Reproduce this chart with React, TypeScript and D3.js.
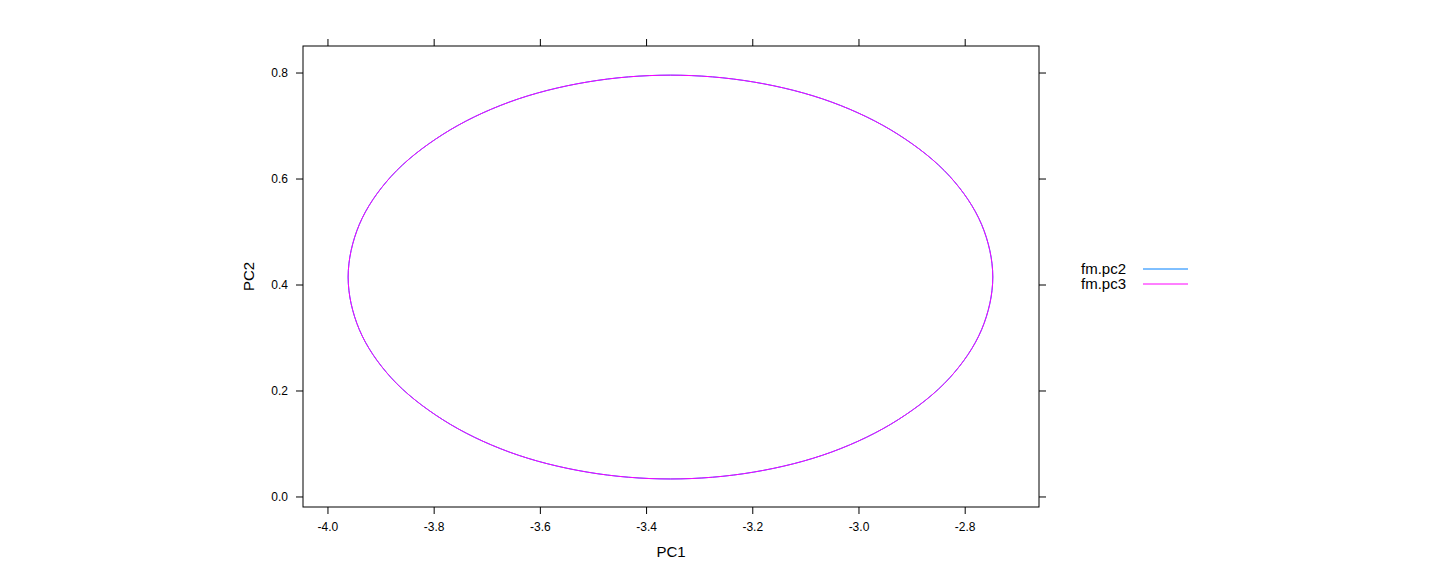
import React from 'react';
import * as d3 from 'd3';

// ellipse outline (PC1, PC2), every 15 degrees
const pc1Values: number[] = [
  -2.748, -2.769, -2.829, -2.926, -3.051, -3.198, -3.355, -3.512, -3.659, -3.784, -3.881, -3.941,
  -3.962, -3.941, -3.881, -3.784, -3.659, -3.512, -3.355, -3.198, -3.051, -2.926, -2.829, -2.769,
];
const pc2Values: number[] = [
  0.415, 0.514, 0.605, 0.684, 0.745, 0.783, 0.796, 0.783, 0.745, 0.684, 0.605, 0.514,
  0.415, 0.316, 0.225, 0.146, 0.085, 0.047, 0.034, 0.047, 0.085, 0.146, 0.225, 0.316,
];
const seriesNames: string[] = ['fm.pc2', 'fm.pc3'];
const seriesColors: string[] = ['#0080ff', '#ff00ff'];
const xTicks: number[] = [-4.0, -3.8, -3.6, -3.4, -3.2, -3.0, -2.8];
const yTicks: number[] = [0.0, 0.2, 0.4, 0.6, 0.8];

const width = 1440;
const height = 576;
const panel = { left: 303, right: 1039, top: 46, bottom: 507 };
const tickLen = 7;
const font = "'Liberation Sans', Arial, sans-serif";

function App() {
  const x = d3.scaleLinear().domain([-4.047, -2.661]).range([panel.left, panel.right]);
  const y = d3.scaleLinear().domain([-0.0189, 0.851]).range([panel.bottom, panel.top]);

  const points: [number, number][] = pc1Values.map((v, i) => [v, pc2Values[i]]);
  const line = d3.line<[number, number]>()
    .x(d => x(d[0]))
    .y(d => y(d[1]))
    .curve(d3.curveCatmullRomClosed);
  const path = line(points) || '';

  return (
    <svg width={width} height={height} style={{ position: 'absolute', left: 0, top: 0 }}
      fontFamily={font}>
      <rect width={width} height={height} fill="#fff" />
      {/* data */}
      {seriesNames.map((name, i) => (
        <path key={name} d={path} fill="none" stroke={seriesColors[i]} strokeWidth={1} />
      ))}
      {/* panel box */}
      <rect x={panel.left} y={panel.top} width={panel.right - panel.left} height={panel.bottom - panel.top}
        fill="none" stroke="#000" strokeWidth={1} />
      {/* x ticks */}
      {xTicks.map(t => (
        <g key={'x' + t}>
          <line x1={x(t)} x2={x(t)} y1={panel.bottom} y2={panel.bottom + tickLen} stroke="#000" />
          <line x1={x(t)} x2={x(t)} y1={panel.top} y2={panel.top - tickLen} stroke="#000" />
          <text x={x(t)} y={panel.bottom + 24} fontSize={12} textAnchor="middle">{d3.format('.1f')(t).replace('−', '-')}</text>
        </g>
      ))}
      {/* y ticks */}
      {yTicks.map(t => (
        <g key={'y' + t}>
          <line x1={panel.left} x2={panel.left - tickLen} y1={y(t)} y2={y(t)} stroke="#000" />
          <line x1={panel.right} x2={panel.right + tickLen} y1={y(t)} y2={y(t)} stroke="#000" />
          <text x={panel.left - 15} y={y(t)} dy="0.35em" fontSize={12} textAnchor="end">{d3.format('.1f')(t)}</text>
        </g>
      ))}
      {/* axis titles */}
      <text x={(panel.left + panel.right) / 2} y={557} fontSize={15} textAnchor="middle">PC1</text>
      <text transform={`translate(254, ${(panel.top + panel.bottom) / 2}) rotate(-90)`} fontSize={15}
        textAnchor="middle">PC2</text>
      {/* legend */}
      {seriesNames.map((name, i) => (
        <g key={'leg' + name} transform={`translate(0, ${269 + i * 15})`}>
          <text x={1126} y={0} dy="0.35em" fontSize={15} textAnchor="end">{name}</text>
          <line x1={1143} x2={1188} y1={0} y2={0} stroke={seriesColors[i]} strokeWidth={1} />
        </g>
      ))}
    </svg>
  );
}

export default App;
